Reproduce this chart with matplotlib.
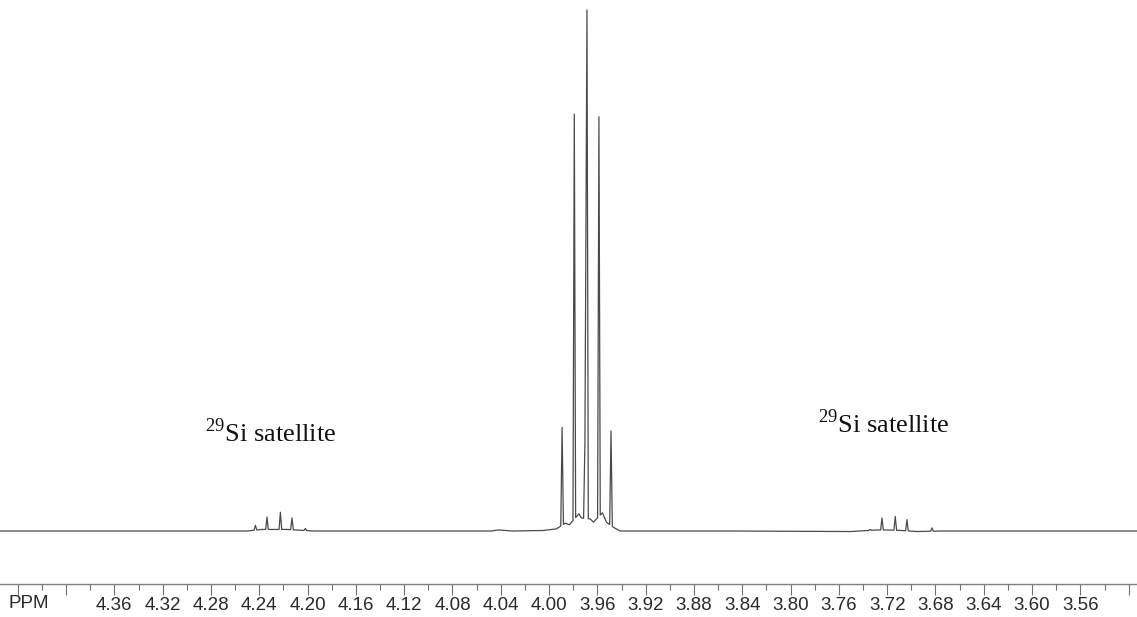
"""1H NMR spectrum with 29Si satellites, redrawn from a scanned plot."""
import numpy as np
import matplotlib
matplotlib.use("Agg")
import matplotlib.pyplot as plt
from matplotlib.ticker import MultipleLocator, FuncFormatter

plt.rcParams["font.family"] = ["Liberation Sans", "DejaVu Sans"]
plt.rcParams["mathtext.fontset"] = "custom"
plt.rcParams["mathtext.rm"] = "Liberation Serif"

# ---------------------------------------------------------------------------
# Data (intensity: baseline 0, tallest line 100)
# ---------------------------------------------------------------------------
# line tops
peak_ppm = [4.2432, 4.2336, 4.2225, 4.2129, 4.2018,
            3.9892, 3.9791, 3.9703, 3.9686, 3.9587, 3.9487,
            3.7340, 3.7243, 3.7133, 3.7036, 3.6829]
peak_int = [1.1, 2.7, 3.6, 2.5, 0.5,
            19.9, 80.0, 17.1, 100.0, 79.5, 19.2,
            0.3, 2.5, 2.8, 2.2, 0.6]

# baseline / valley points between the lines
base_ppm = [4.4550, 4.3000, 4.2500, 4.2380, 4.2280, 4.2170, 4.1950, 4.1000,
            4.0480, 4.0420, 4.0300, 4.0050, 3.9940, 3.9865, 3.9832, 3.9753,
            3.9732, 3.9658, 3.9633, 3.9558, 3.9525, 3.9459, 3.9410, 3.8500,
            3.7500, 3.7290, 3.7190, 3.7080, 3.6950, 3.6760, 3.6000, 3.5130]
base_int = [0.0, 0.0, 0.0, 0.3, 0.3, 0.3, 0.0, 0.0,
            0.0, 0.2, 0.0, 0.1, 0.4, 1.5, 1.2, 3.3,
            2.5, 2.3, 1.7, 3.5, 1.7, 0.6, 0.0, 0.0,
            -0.1, 0.2, 0.2, 0.1, -0.1, 0.0, 0.0, 0.0]

tick_labels = ["4.36", "4.32", "4.28", "4.24", "4.20", "4.16", "4.12",
               "4.08", "4.04", "4.00", "3.96", "3.92", "3.88", "3.84",
               "3.80", "3.76", "3.72", "3.68", "3.64", "3.60", "3.56"]

annotations = [(4.2847, 17.1, r"$^{29}$Si satellite"),
               (3.7770, 18.8, r"$^{29}$Si satellite")]


def build_trace(bx, by, px, py, hw=0.0011):
    """Stick lines (narrow spikes) laid over the baseline points."""
    order = np.argsort(bx)
    bx_s, by_s = np.asarray(bx)[order], np.asarray(by)[order]
    pts = list(zip(bx, by))
    px = np.asarray(px)
    for i, (p, h) in enumerate(zip(px, py)):
        pts.append((p, h))
        for f in (p - hw, p + hw):
            others = np.delete(px, i)
            if np.any(np.abs(others - f) < hw * 0.9):
                continue
            pts.append((f, float(np.interp(f, bx_s, by_s))))
    pts.sort(key=lambda t: -t[0])
    xs, ys = zip(*pts)
    return np.array(xs), np.array(ys)


x_tr, y_tr = build_trace(base_ppm, base_int, peak_ppm, peak_int)

# ---------------------------------------------------------------------------
# Figure
# ---------------------------------------------------------------------------
W, H = 1137, 617
fig = plt.figure(figsize=(W / 100, H / 100), dpi=100)
ax = fig.add_axes([0, 33 / H, 1, 584 / H])

ax.plot(x_tr, y_tr, color="#4a4a4a", lw=0.9)

ax.set_xlim(4.4547, 3.5131)
ax.set_ylim(-10.17, 101.92)

for s in ("top", "left", "right"):
    ax.spines[s].set_visible(False)
ax.spines["bottom"].set_color("#808080")
ax.spines["bottom"].set_linewidth(1.0)
ax.set_yticks([])

ax.xaxis.set_major_locator(MultipleLocator(0.04))
ax.xaxis.set_minor_locator(MultipleLocator(0.02))


def fmt(v, pos):
    s = f"{v:.2f}"
    return s if s in tick_labels else ""


ax.xaxis.set_major_formatter(FuncFormatter(fmt))
ax.tick_params(axis="x", which="major", direction="out", length=8, width=0.8,
               color="#707070", labelsize=13.5, labelcolor="#2a2a2a", pad=1.0)
ax.tick_params(axis="x", which="minor", direction="out", length=4.5, width=0.8,
               color="#707070")

fig.text(29 / W, 1 - 603 / H, "PPM", ha="center", va="center",
         fontsize=13.5, color="#2a2a2a")

for x, y, t in annotations:
    ax.text(x, y, t, fontsize=19, family="Liberation Serif", color="#111111",
            ha="left", va="baseline")

fig.savefig("out.png", dpi=100)
